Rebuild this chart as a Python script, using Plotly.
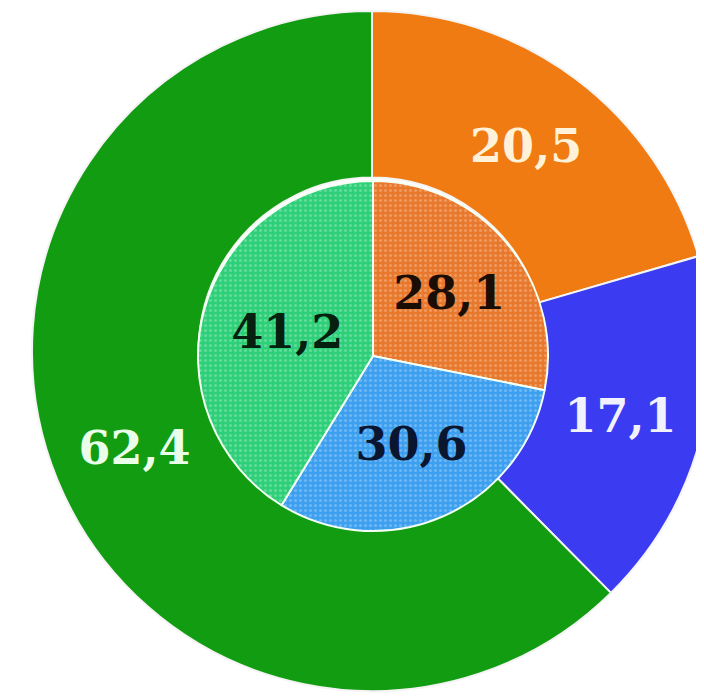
import plotly.graph_objects as go

# data (comma is the decimal mark in the original)
groups = ['Orange', 'Blue', 'Green']
outer_values = [20.5, 17.1, 62.4]
inner_values = [28.1, 30.6, 41.2]

OUTER_COLORS = ['#f07b12', '#3b3bf2', '#129c12']
INNER_COLORS = ['#e8782c', '#3d9ff0', '#2dcf78']
OUTER_TEXT = ['#fff2d8', '#f2f2ff', '#eaffea']
INNER_TEXT = ['#1a0d05', '#0a1530', '#05200f']

W, H = 704, 698
# page body has an 8px margin, so figure coords = screen coords - 8
# outer ring: centre (364, 343), radius 340 px
# inner pie: centre (365, 348), radius 175 px
outer_dom = dict(x=[24 / W, 1.0], y=[1 - 683 / H, 1 - 3 / H])
inner_dom = dict(x=[190 / W, 540 / W], y=[1 - 523 / H, 1 - 173 / H])

fig = go.Figure()

fig.add_trace(go.Pie(
    labels=groups,
    values=outer_values,
    hole=0.51,
    sort=False,
    direction='clockwise',
    rotation=0,
    domain=outer_dom,
    marker=dict(colors=OUTER_COLORS, line=dict(color='#f4f4f4', width=2)),
    texttemplate='%{value:.1f}',
    textposition='inside',
    insidetextorientation='horizontal',
    textfont=dict(family='DejaVu Serif', size=46, color=OUTER_TEXT, weight='bold'),
    showlegend=False,
))

fig.add_trace(go.Pie(
    labels=groups,
    values=inner_values,
    sort=False,
    direction='clockwise',
    rotation=0,
    domain=inner_dom,
    marker=dict(
        colors=INNER_COLORS,
        line=dict(color='#f2fff2', width=2),
        pattern=dict(shape='.', fillmode='overlay', fgcolor='white',
                     fgopacity=0.25, size=5, solidity=0.3),
    ),
    texttemplate='%{value:.1f}',
    textposition='inside',
    insidetextorientation='horizontal',
    textfont=dict(family='DejaVu Serif', size=46, color=INNER_TEXT, weight='bold'),
    showlegend=False,
))

fig.update_layout(
    width=W,
    height=H,
    margin=dict(l=0, r=0, t=0, b=0),
    paper_bgcolor='white',
    plot_bgcolor='white',
    separators=', ',
    uniformtext=dict(minsize=46, mode='show'),
)

fig.write_html('out.html')
